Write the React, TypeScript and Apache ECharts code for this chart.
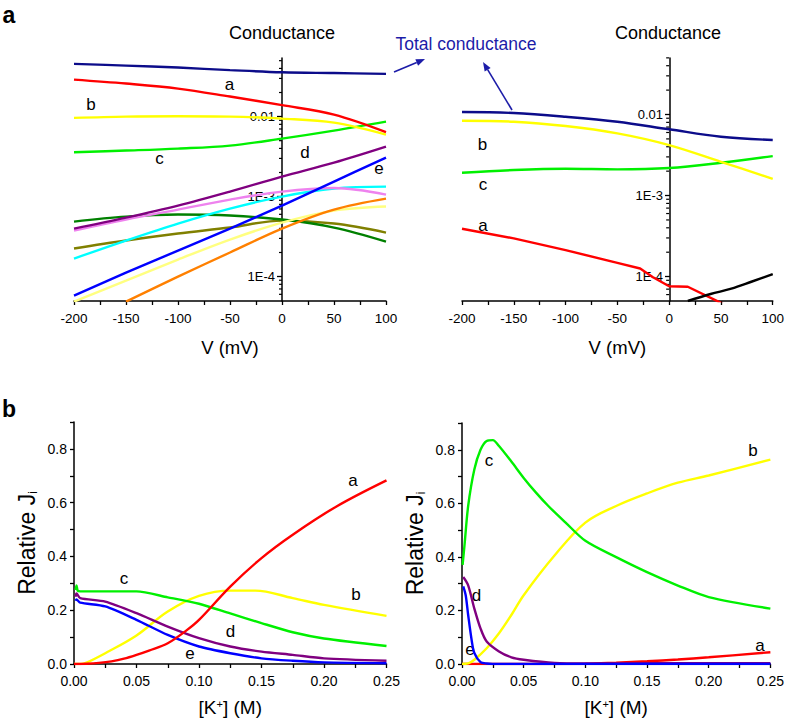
import React, { useEffect, useRef } from "react";
import * as echarts from "echarts";

const FONT = '"Liberation Sans", Arial, sans-serif';

// ---------- Panel a (left): conductance vs V ----------
const tlV = [-200, -150, -100, -50, 0, 50, 100];
const tlTotal = [0.0456, 0.0434, 0.041, 0.0381, 0.0358, 0.035, 0.0342];
const tlA = [0.029, 0.0259, 0.0224, 0.0178, 0.0139, 0.0106, 0.0064];
const tlB = [0.00963, 0.01, 0.0101, 0.01, 0.00944, 0.00841, 0.00596];
const tlC = [0.00358, 0.00376, 0.00398, 0.00434, 0.00531, 0.00668, 0.00866];
const tlD = [3.98e-4, 5.46e-4, 7.72e-4, 1.155e-3, 1.78e-3, 2.66e-3, 4.22e-3];
const tlPink = [3.76e-4, 5.16e-4, 6.88e-4, 9.17e-4, 1.155e-3, 1.28e-3, 1.06e-3];
const tlCyan = [1.68e-4, 2.82e-4, 4.6e-4, 7.08e-4, 1.0e-3, 1.26e-3, 1.33e-3];
const tlE = [5.79e-5, 1.12e-4, 2.11e-4, 3.98e-4, 7.72e-4, 1.54e-3, 3.07e-3];
const tlDarkGreen = [4.87e-4, 5.62e-4, 5.96e-4, 5.79e-4, 5.16e-4, 4.1e-4, 2.74e-4];
const tlOlive = [2.24e-4, 2.82e-4, 3.45e-4, 4.1e-4, 5.01e-4, 4.6e-4, 3.55e-4];
const tlLightYellow = [4.87e-5, 8.91e-5, 1.63e-4, 2.9e-4, 4.73e-4, 6.68e-4, 7.5e-4];
const tlOrangeV = [-150, -100, -50, 0, 50, 100];
const tlOrange = [4.87e-5, 1.0e-4, 2.0e-4, 3.98e-4, 6.88e-4, 9.44e-4];

// ---------- Panel a (right) ----------
const trV = [-200, -150, -100, -50, 0, 50, 100];
const trTotal = [0.01074, 0.01043, 0.00939, 0.00815, 0.00657, 0.00532, 0.00484];
const trB = [0.00838, 0.00815, 0.00721, 0.00586, 0.0042, 0.00261, 0.00161];
const trC = [1.912e-3, 2.065e-3, 2.14e-3, 2.106e-3, 2.19e-3, 2.54e-3, 3.07e-3];
const trAV = [-200, -150, -100, -50, -28, -16, 0, 18, 52];
const trA = [3.89e-4, 2.96e-4, 2.12e-4, 1.48e-4, 1.26e-4, 9.9e-5, 7.6e-5, 7.5e-5, 4.6e-5];
const trBlackV = [18, 40, 60, 80, 100];
const trBlack = [5.0e-5, 6.1e-5, 7.1e-5, 8.7e-5, 1.07e-4];

// minor tick positions of the logarithmic conductance axes
const logMinorTicks = [
  6e-5, 7e-5, 8e-5, 9e-5,
  2e-4, 3e-4, 4e-4, 5e-4, 6e-4, 7e-4, 8e-4, 9e-4,
  2e-3, 3e-3, 4e-3, 5e-3, 6e-3, 7e-3, 8e-3, 9e-3,
  2e-2, 3e-2, 4e-2, 5e-2,
];

// ---------- Panel b (left): relative J vs [K+] ----------
const blAK = [0, 0.01, 0.02, 0.03, 0.04, 0.05, 0.06, 0.075, 0.09, 0.1, 0.125, 0.15, 0.175, 0.21, 0.25];
const blA = [0, 0.001, 0.004, 0.01, 0.02, 0.034, 0.05, 0.077, 0.125, 0.164, 0.288, 0.394, 0.481, 0.586, 0.683];
const blBK = [0, 0.005, 0.01, 0.025, 0.05, 0.075, 0.1, 0.125, 0.145, 0.175, 0.2, 0.25];
const blB = [0, 0, 0.005, 0.04, 0.106, 0.195, 0.253, 0.273, 0.273, 0.245, 0.22, 0.179];
const blCK = [0.0012, 0.002, 0.003, 0.005, 0.02, 0.05, 0.075, 0.1, 0.125, 0.15, 0.175, 0.2, 0.25];
const blC = [0.275, 0.292, 0.272, 0.27, 0.27, 0.27, 0.248, 0.224, 0.188, 0.152, 0.118, 0.095, 0.067];
const blDK = [0.0012, 0.002, 0.005, 0.025, 0.05, 0.075, 0.1, 0.125, 0.15, 0.175, 0.2, 0.25];
const blD = [0.25, 0.262, 0.245, 0.232, 0.189, 0.139, 0.096, 0.065, 0.046, 0.034, 0.021, 0.012];
const blEK = [0.0012, 0.002, 0.005, 0.025, 0.05, 0.075, 0.1, 0.125, 0.15, 0.175, 0.2, 0.25];
const blE = [0.235, 0.24, 0.228, 0.214, 0.164, 0.108, 0.065, 0.04, 0.021, 0.012, 0.006, 0.003];

// ---------- Panel b (right) ----------
const brCK = [0.0005, 0.002, 0.005, 0.01, 0.015, 0.02, 0.025, 0.03, 0.04, 0.05, 0.06, 0.07, 0.084, 0.1, 0.125, 0.15, 0.175, 0.2, 0.25];
const brC = [0.37, 0.442, 0.59, 0.726, 0.8, 0.833, 0.836, 0.814, 0.756, 0.695, 0.64, 0.59, 0.528, 0.46, 0.399, 0.343, 0.293, 0.25, 0.207];
const brBK = [0, 0.005, 0.01, 0.02, 0.03, 0.04, 0.05, 0.075, 0.1, 0.125, 0.15, 0.175, 0.2, 0.25];
const brB = [0, 0.002, 0.016, 0.059, 0.115, 0.183, 0.257, 0.405, 0.528, 0.59, 0.637, 0.677, 0.704, 0.763];
const brDK = [0.001, 0.005, 0.01, 0.015, 0.02, 0.03, 0.04, 0.05, 0.075, 0.1, 0.15, 0.2, 0.25];
const brD = [0.325, 0.294, 0.207, 0.133, 0.084, 0.047, 0.025, 0.016, 0.004, 0.002, 0.003, 0.003, 0.003];
const brEK = [0.001, 0.003, 0.005, 0.008, 0.01, 0.015, 0.02, 0.03, 0.1, 0.25];
const brE = [0.29, 0.257, 0.183, 0.084, 0.041, 0.007, 0.002, 0, 0, 0];
const brAK = [0, 0.05, 0.1, 0.125, 0.15, 0.175, 0.2, 0.25];
const brA = [0, 0, 0.001, 0.005, 0.01, 0.017, 0.025, 0.044];

const vTicks = { min: -200, max: 100, interval: 50 };
const kTicks = { min: 0, max: 0.25, interval: 0.05 };

const C = {
  navy: "#0c0c8a",
  red: "#ff0000",
  yellow: "#ffff00",
  green: "#00f000",
  purple: "#800080",
  pink: "#ee82ee",
  cyan: "#00ffff",
  blue: "#0000ff",
  darkGreen: "#008000",
  olive: "#808000",
  lightYellow: "#ffff80",
  orange: "#ff8000",
  black: "#000000",
};

const zip = (xs: number[], ys: number[]) => xs.map((x, i) => [x, ys[i]]);

const line = (idx: number, xs: number[], ys: number[], color: string, smooth: number | false = 0.35) => ({
  type: "line",
  xAxisIndex: idx,
  yAxisIndex: idx,
  data: zip(xs, ys),
  symbol: "none",
  smooth,
  clip: true,
  silent: true,
  lineStyle: { color, width: 2.4 },
  itemStyle: { color },
});

const minorTickSeries = (idx: number) => ({
  type: "custom",
  xAxisIndex: idx,
  yAxisIndex: idx,
  silent: true,
  clip: false,
  data: logMinorTicks.map((v) => [0, v]),
  renderItem: (_p: any, api: any) => {
    const pt = api.coord([0, api.value(1)]);
    return {
      type: "line",
      shape: { x1: pt[0] - 3, y1: pt[1], x2: pt[0], y2: pt[1] },
      style: { stroke: "#000", lineWidth: 1.2 },
    };
  },
});

const axisLine = { show: true, onZero: false, lineStyle: { color: "#000", width: 1.5 } };

const logFmt = (v: number) => {
  const l = Math.log10(v);
  const r = Math.round(l);
  if (Math.abs(l - r) > 1e-6) return "";
  if (r === -2) return "0.01";
  if (r === -3 || r === -4) return "1E" + r;
  return "";
};

const vAxis = (gi: number) => ({
  type: "value",
  gridIndex: gi,
  ...vTicks,
  axisLine,
  axisTick: { show: true, length: 4, lineStyle: { color: "#000", width: 1.3 } },
  minorTick: { show: true, splitNumber: 2, length: 4, lineStyle: { color: "#000", width: 1.3 } },
  splitLine: { show: false },
  axisLabel: { color: "#000", fontSize: 13.5, fontFamily: FONT, margin: 10 },
  name: "V (mV)",
  nameLocation: "middle",
  nameGap: 37,
  nameTextStyle: { color: "#000", fontSize: 18.5, fontFamily: FONT },
});

const logAxis = (gi: number, min: number, max: number) => ({
  type: "log",
  logBase: 10,
  gridIndex: gi,
  min,
  max,
  splitNumber: 3,
  position: "left",
  offset: -208,
  axisLine: { show: true, onZero: false, lineStyle: { color: "#000", width: 1.5 } },
  axisTick: { show: true, length: 5, lineStyle: { color: "#000", width: 1.3 } },
  minorTick: { show: false },
  splitLine: { show: false },
  axisLabel: { color: "#000", fontSize: 13, fontFamily: FONT, margin: 7, formatter: logFmt, showMinLabel: false, showMaxLabel: false },
});

const kAxis = (gi: number) => ({
  type: "value",
  gridIndex: gi,
  ...kTicks,
  axisLine,
  axisTick: { show: true, length: 4, lineStyle: { color: "#000", width: 1.3 } },
  minorTick: { show: true, splitNumber: 2, length: 4, lineStyle: { color: "#000", width: 1.3 } },
  splitLine: { show: false },
  axisLabel: { color: "#000", fontSize: 14, fontFamily: FONT, margin: 10, formatter: (v: number) => v.toFixed(2) },
  name: "[K{sup|+}] (M)",
  nameLocation: "middle",
  nameGap: 34,
  nameTextStyle: {
    color: "#000",
    fontSize: 19,
    fontFamily: FONT,
    rich: { sup: { fontSize: 11, fontFamily: FONT, color: "#000", verticalAlign: "top", padding: [0, 0, 8, 0] } },
  },
});

const jAxis = (gi: number) => ({
  type: "value",
  gridIndex: gi,
  min: 0,
  max: 0.9,
  interval: 0.2,
  axisLine: { show: true, lineStyle: { color: "#000", width: 1.5 } },
  axisTick: { show: true, length: 4, lineStyle: { color: "#000", width: 1.3 } },
  minorTick: { show: true, splitNumber: 2, length: 4, lineStyle: { color: "#000", width: 1.3 } },
  splitLine: { show: false },
  axisLabel: {
    color: "#000",
    fontSize: 14,
    fontFamily: FONT,
    margin: 7,
    formatter: (v: number) => (v > 0.85 ? "" : v.toFixed(1)),
  },
  name: "Relative J{sub|i}",
  nameLocation: "middle",
  nameGap: 35,
  nameTextStyle: {
    color: "#000",
    fontSize: 23,
    fontFamily: FONT,
    rich: { sub: { fontSize: 12, fontFamily: FONT, color: "#000", verticalAlign: "bottom", padding: [12, 0, 0, 0] } },
  },
});

const txt = (text: string, x: number, y: number, size = 17, extra: any = {}) => ({
  type: "text",
  x,
  y,
  silent: true,
  style: {
    text,
    fill: extra.fill || "#000",
    font: `${extra.weight || "normal"} ${size}px ${FONT}`,
    fontSize: size,
    fontFamily: FONT,
    fontWeight: extra.weight || "normal",
    align: "center",
    verticalAlign: "middle",
    textAlign: "center",
    textVerticalAlign: "middle",
  },
});

const arrow = (x1: number, y1: number, x2: number, y2: number, color: string) => {
  const dx = x2 - x1;
  const dy = y2 - y1;
  const len = Math.hypot(dx, dy);
  const ux = dx / len;
  const uy = dy / len;
  const hl = 9;
  const hw = 3.5;
  const bx = x2 - ux * hl;
  const by = y2 - uy * hl;
  return [
    { type: "line", silent: true, shape: { x1, y1, x2: bx, y2: by }, style: { stroke: color, lineWidth: 1.6 } },
    {
      type: "polygon",
      silent: true,
      shape: { points: [[x2, y2], [bx - uy * hw, by + ux * hw], [bx + uy * hw, by - ux * hw]] },
      style: { fill: color },
    },
  ];
};

const BLUE_TXT = "#1c1ca8";

export default function App() {
  const ref = useRef<HTMLDivElement>(null);
  useEffect(() => {
    if (!ref.current) return;
    const chart = echarts.init(ref.current, undefined, { renderer: "svg" });
    const option: any = {
      animation: false,
      backgroundColor: "#fff",
      grid: [
        { left: 74, top: 58, width: 312, height: 243 },
        { left: 462, top: 58, width: 312, height: 243 },
        { left: 74, top: 422, width: 312.5, height: 242 },
        { left: 462, top: 423, width: 311.5, height: 243 },
      ],
      xAxis: [vAxis(0), vAxis(1), kAxis(2), kAxis(3)],
      yAxis: [logAxis(0, 4.95e-5, 0.054), logAxis(1, 5.0e-5, 0.0498), jAxis(2), jAxis(3)],
      series: [
        minorTickSeries(0),
        minorTickSeries(1),
        line(0, tlV, tlOlive, C.olive),
        line(0, tlV, tlDarkGreen, C.darkGreen),
        line(0, tlV, tlLightYellow, C.lightYellow),
        line(0, tlOrangeV, tlOrange, C.orange),
        line(0, tlV, tlCyan, C.cyan),
        line(0, tlV, tlPink, C.pink),
        line(0, tlV, tlE, C.blue),
        line(0, tlV, tlD, C.purple),
        line(0, tlV, tlC, C.green),
        line(0, tlV, tlB, C.yellow),
        line(0, tlV, tlA, C.red),
        line(0, tlV, tlTotal, C.navy),

        line(1, trV, trC, C.green),
        line(1, trV, trB, C.yellow),
        line(1, trAV, trA, C.red, false),
        line(1, trBlackV, trBlack, C.black),
        line(1, trV, trTotal, C.navy),

        line(2, blBK, blB, C.yellow),
        line(2, blCK, blC, C.green, 0.25),
        line(2, blDK, blD, C.purple, 0.25),
        line(2, blEK, blE, C.blue, 0.25),
        line(2, blAK, blA, C.red),

        line(3, brAK, brA, C.red),
        line(3, brBK, brB, C.yellow),
        line(3, brCK, brC, C.green, 0.3),
        line(3, brDK, brD, C.purple, 0.3),
        line(3, brEK, brE, C.blue, 0.3),
      ],
      graphic: [
        txt("a", 9, 15, 23, { weight: "bold" }),
        txt("b", 9, 409, 23, { weight: "bold" }),
        txt("Conductance", 282, 33, 18),
        txt("Conductance", 668, 33, 18),
        txt("Total conductance", 466, 44, 17.5, { fill: BLUE_TXT }),
        ...arrow(394, 72, 425, 59, BLUE_TXT),
        ...arrow(512, 110, 483, 62, BLUE_TXT),
        // panel a left labels
        txt("a", 229.5, 84.5),
        txt("b", 91, 104),
        txt("c", 159.5, 158.5),
        txt("d", 305, 152.5),
        txt("e", 379, 168),
        // panel a right labels
        txt("b", 482.5, 144),
        txt("c", 483, 184),
        txt("a", 483, 225),
        // panel b left labels
        txt("a", 353, 480),
        txt("b", 356, 594),
        txt("c", 124, 578),
        txt("d", 230.5, 631),
        txt("e", 190, 653),
        // panel b right labels
        txt("c", 489, 460),
        txt("b", 753, 450.5),
        txt("d", 476.5, 595),
        txt("e", 470, 649),
        txt("a", 760, 645),
      ],
    };
    chart.setOption(option);
    return () => chart.dispose();
  }, []);
  return (
    <div
      ref={ref}
      style={{ position: "fixed", left: 0, top: 0, width: 787, height: 718, background: "#fff" }}
    />
  );
}
